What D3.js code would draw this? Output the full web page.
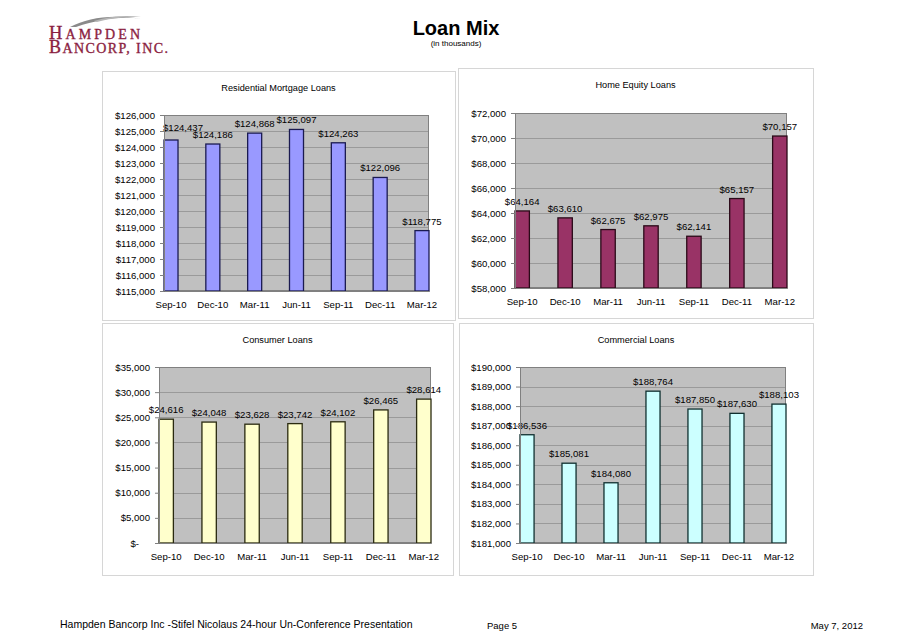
<!DOCTYPE html>
<html><head><meta charset="utf-8">
<script src="https://cdn.jsdelivr.net/npm/d3@7"></script>
<style>
body{margin:0;background:#fff}
svg{display:block}
text{font-family:"Liberation Sans",Arial,sans-serif;fill:#000}
</style>
</head><body>
<svg id="c" width="912" height="644"></svg>
<script>
// ---------- data ----------
const categories = ["Sep-10","Dec-10","Mar-11","Jun-11","Sep-11","Dec-11","Mar-12"];
const residentialValues = [124437,124186,124868,125097,124263,122096,118775];
const homeEquityValues  = [64164,63610,62675,62975,62141,65157,70157];
const consumerValues    = [24616,24048,23628,23742,24102,26465,28614];
const commercialValues  = [186536,185081,184080,188764,187850,187630,188103];
const residentialTicks = [115000,116000,117000,118000,119000,120000,121000,122000,123000,124000,125000,126000];
const homeEquityTicks  = [58000,60000,62000,64000,66000,68000,70000,72000];
const consumerTicks    = [0,5000,10000,15000,20000,25000,30000,35000];
const commercialTicks  = [181000,182000,183000,184000,185000,186000,187000,188000,189000,190000];
const chartTitles = ["Residential Mortgage Loans","Home Equity Loans","Consumer Loans","Commercial Loans"];
const pageTitle = "Loan Mix";
const pageSubtitle = "(in thousands)";
const footerLeft = "Hampden Bancorp Inc -Stifel Nicolaus 24-hour Un-Conference Presentation";
const footerPage = "Page 5";
const footerDate = "May 7, 2012";

// ---------- layout / style ----------
const charts = [
  {title:chartTitles[0], values:residentialValues, ticks:residentialTicks,
   panel:[102,71,455,320], plot:[164,115,429,291], fill:"#9999FF", stroke:"#1a1a50", firstShift:[12,-3.5]},
  {title:chartTitles[1], values:homeEquityValues, ticks:homeEquityTicks,
   panel:[458,68,813,318], plot:[515,113,787,288], fill:"#993366", stroke:"#2a0a18", firstShift:[0,0]},
  {title:chartTitles[2], values:consumerValues, ticks:consumerTicks,
   panel:[102,323,453,575], plot:[159,367,431,543], fill:"#FFFFCC", stroke:"#2a2a10", firstShift:[0,0]},
  {title:chartTitles[3], values:commercialValues, ticks:commercialTicks,
   panel:[459,323,813,575], plot:[520,367,786,543], fill:"#CCFFFF", stroke:"#103030", firstShift:[0,0]}
];
const FS = 9.6;

const svg = d3.select("#c");
svg.append("rect").attr("width",912).attr("height",644).attr("fill","#fff");

const money = v => v === 0 ? "$-" : "$" + d3.format(",")(v);

charts.forEach(ch => {
  const [px0,py0,px1,py1] = ch.panel;
  const [x0,y0,x1,y1] = ch.plot;
  const g = svg.append("g");
  g.append("rect").attr("x",px0+0.5).attr("y",py0+0.5).attr("width",px1-px0).attr("height",py1-py0)
    .attr("fill","#fff").attr("stroke","#d6d6d6").attr("stroke-width",1);
  g.append("text").attr("x",(px0+px1)/2).attr("y",py0+20)
    .attr("text-anchor","middle").attr("font-size",9.2).text(ch.title);

  const x = d3.scaleBand().domain(categories).range([x0,x1]).paddingInner(0.665).paddingOuter(0);
  const y = d3.scaleLinear().domain([ch.ticks[0], ch.ticks[ch.ticks.length-1]]).range([y1,y0]);

  g.append("rect").attr("x",x0).attr("y",y0).attr("width",x1-x0).attr("height",y1-y0)
    .attr("fill","#C0C0C0");
  g.selectAll(".grid").data(ch.ticks).join("line")
    .attr("x1",x0).attr("x2",x1).attr("y1",d=>Math.round(y(d))+0.5).attr("y2",d=>Math.round(y(d))+0.5)
    .attr("stroke","#9a9a9a").attr("stroke-width",1);
  g.append("rect").attr("x",x0+0.5).attr("y",y0+0.5).attr("width",x1-x0-1).attr("height",y1-y0-1)
    .attr("fill","none").attr("stroke","#808080");

  g.selectAll(".bar").data(ch.values).join("rect")
    .attr("x",(d,i)=>x(categories[i]))
    .attr("y",d=>y(d))
    .attr("width",x.bandwidth())
    .attr("height",d=>y1-y(d))
    .attr("fill",ch.fill).attr("stroke",ch.stroke).attr("stroke-width",1.3);

  g.selectAll(".lbl").data(ch.values).join("text")
    .attr("x",(d,i)=>x(categories[i])+x.bandwidth()/2 + (i===0?ch.firstShift[0]:0))
    .attr("y",(d,i)=>y(d)-6 + (i===0?ch.firstShift[1]:0))
    .attr("text-anchor","middle").attr("font-size",FS).text(d=>money(d));

  const ya = g.append("g").attr("transform",`translate(${x0},0)`)
    .call(d3.axisLeft(y).tickValues(ch.ticks).tickSizeInner(4).tickSizeOuter(0).tickPadding(5).tickFormat(money));
  ya.select(".domain").attr("stroke","#808080");
  ya.selectAll(".tick line").attr("stroke","#808080");
  ya.selectAll(".tick text").attr("font-size",FS).attr("font-family","Liberation Sans, Arial, sans-serif")
    .attr("dx",d=>d===0?-11:0);

  const xa = g.append("g").attr("transform",`translate(0,${y1})`)
    .call(d3.axisBottom(x).tickSize(0).tickPadding(10));
  xa.select(".domain").attr("stroke","#808080");
  xa.selectAll(".tick text").attr("font-size",FS).attr("font-family","Liberation Sans, Arial, sans-serif");
});

// ---------- header ----------
svg.append("text").attr("x",456).attr("y",35).attr("text-anchor","middle")
  .attr("font-size",20).attr("font-weight","bold").text(pageTitle);
svg.append("text").attr("x",456).attr("y",46).attr("text-anchor","middle")
  .attr("font-size",8).text(pageSubtitle);

// logo
const logo = svg.append("g");
logo.append("path")
  .attr("d","M70,27 C88,18 110,14 142,19 C122,16 100,19 76,27 Z")
  .attr("fill","#8a8a8a");
logo.append("path")
  .attr("d","M94,21 C110,16 126,15 141,17 C126,17 110,18 97,22 Z")
  .attr("fill","#b5b5b5");
const red = "#8B1E3F";
const t1 = logo.append("text").attr("x",49).attr("y",38.5).attr("textLength",91).attr("lengthAdjust","spacing")
  .style("font-family","'Liberation Serif','Times New Roman',serif").style("fill",red)
  .style("stroke",red).style("stroke-width",0.35);
t1.append("tspan").attr("font-size",18.5).text("H");
t1.append("tspan").attr("font-size",14).text("AMPDEN");
const t2 = logo.append("text").attr("x",49).attr("y",52.5).attr("textLength",119).attr("lengthAdjust","spacing")
  .style("font-family","'Liberation Serif','Times New Roman',serif").style("fill",red)
  .style("stroke",red).style("stroke-width",0.35);
t2.append("tspan").attr("font-size",18).text("B");
t2.append("tspan").attr("font-size",14).text("ANCORP, INC.");

// ---------- footer ----------
svg.append("text").attr("x",60).attr("y",628).attr("font-size",10.5).text(footerLeft);
svg.append("text").attr("x",487).attr("y",629).attr("font-size",9.5)
  .style("font-family","'Liberation Sans Narrow','Arial Narrow',sans-serif").text(footerPage);
svg.append("text").attr("x",863).attr("y",629).attr("text-anchor","end").attr("font-size",9.5)
  .style("font-family","'Liberation Sans Narrow','Arial Narrow',sans-serif").text(footerDate);
</script>
</body></html>
